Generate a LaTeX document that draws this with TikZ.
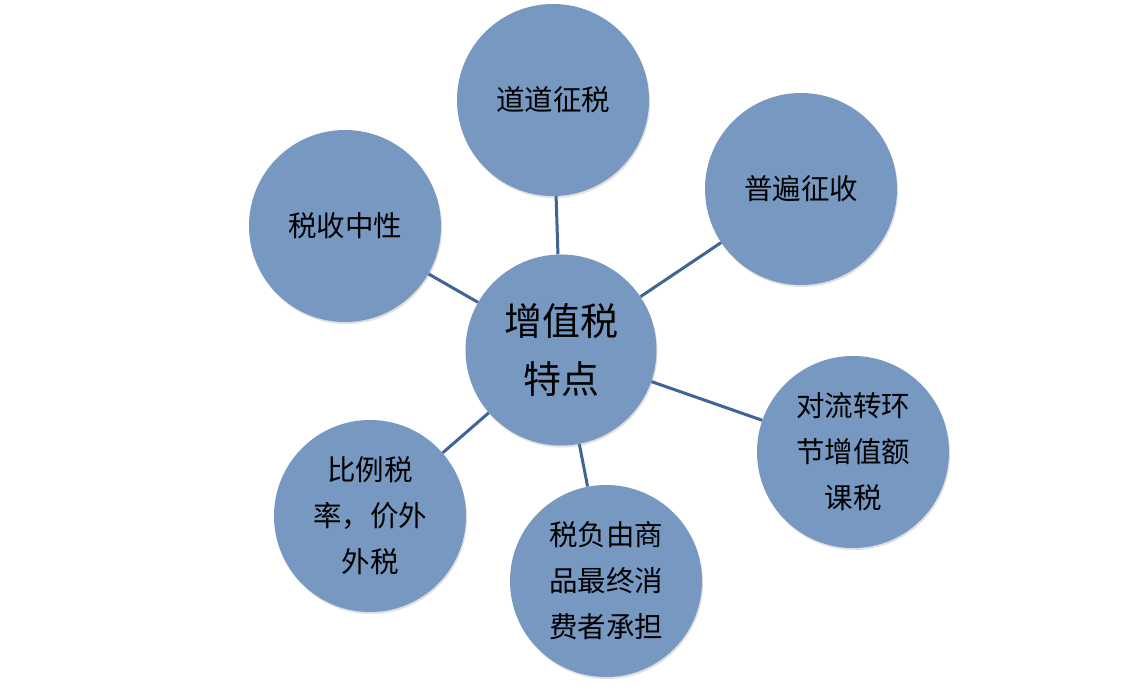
\documentclass[tikz,border=0pt]{standalone}
\usepackage{fontspec}
\newfontfamily\cjk{Noto Sans CJK SC}
\usetikzlibrary{shadows,backgrounds}
\definecolor{circfill}{HTML}{7698C1}
\definecolor{linkcol}{HTML}{3F6496}
\tikzset{
  bub/.style={circle, fill=circfill, minimum size=192pt, inner sep=0pt, align=center,
    font=\cjk\fontsize{28.5}{46}\selectfont,
    drop shadow={opacity=0.25, shadow xshift=1pt, shadow yshift=-2pt}},
  hub/.style={bub, minimum size=191pt, font=\cjk\fontsize{38}{58}\selectfont},
  link/.style={draw=linkcol, line width=3pt}
}
\begin{document}
\begin{tikzpicture}[x=1pt,y=1pt]
\useasboundingbox (0,0) rectangle (1124,698);
\node[hub] (c) at (561,348) {增值税\\特点};
\node[bub] (a) at (553,598) {道道征税};
\node[bub] (b) at (801,509) {普遍征收};
\node[bub] (d) at (345,472) {税收中性};
\node[bub] (e) at (853,246) {对流转环\\节增值额\\课税};
\node[bub] (f) at (606,117) {税负由商\\品最终消\\费者承担};
\node[bub] (g) at (370,182) {比例税\\率，价外\\外税};
\begin{scope}[on background layer]
\fill[white] (0,0) rectangle (1124,698);
\draw[link] (c) -- (a);
\draw[link] (c) -- (b);
\draw[link] (c) -- (d);
\draw[link] (c) -- (e);
\draw[link] (c) -- (f);
\draw[link] (c) -- (g);
\end{scope}
\end{tikzpicture}
\end{document}
